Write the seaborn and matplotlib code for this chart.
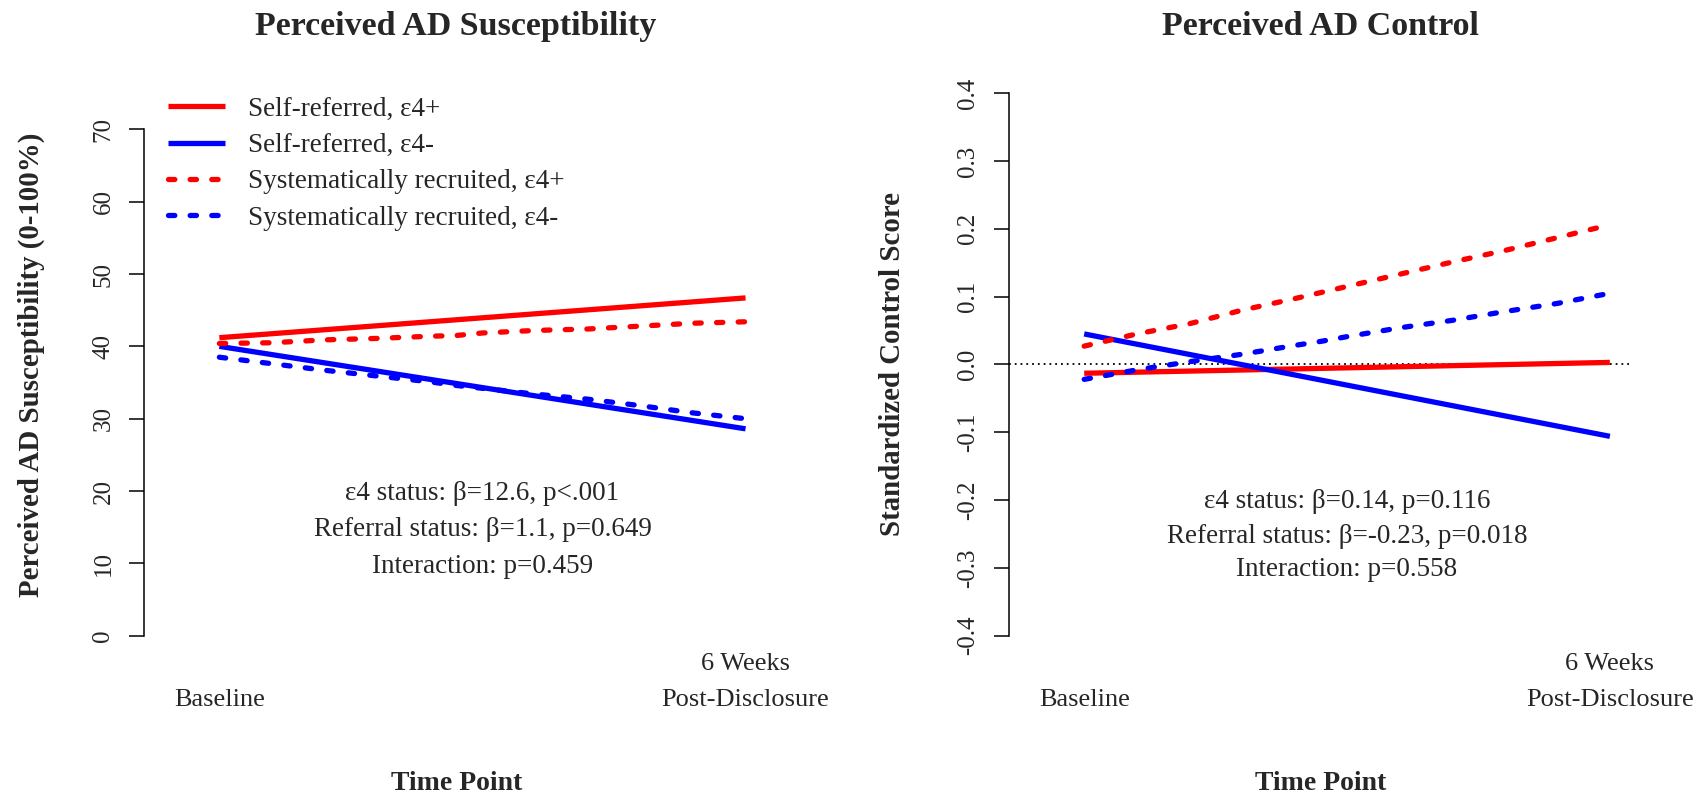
import numpy as np
import pandas as pd
import seaborn as sns
import matplotlib
matplotlib.use("Agg")
import matplotlib.pyplot as plt

# ---------------- data ----------------
time_labels = ["\nBaseline", "6 Weeks\nPost-Disclosure"]
series_names = ["Self-referred, \u03b54+", "Self-referred, \u03b54-",
                "Systematically recruited, \u03b54+", "Systematically recruited, \u03b54-"]

# solid (fitted) lines: baseline -> 6 weeks
susc_self_pos = [41.2, 46.7]
susc_self_neg = [40.0, 28.6]
ctrl_self_pos = [-0.013, 0.003]
ctrl_self_neg = [0.045, -0.106]
solid_x = [0.0, 1.0]

# dotted (smoothed) curves
curve_x = [0.0, 0.1, 0.2, 0.3, 0.4, 0.45, 0.5, 0.6, 0.7, 0.8, 0.9, 1.0]
susc_sys_pos = [40.4, 40.5, 40.9, 41.1, 41.4, 41.5, 41.85, 42.2, 42.4, 42.8, 43.2, 43.4]
susc_sys_neg = [38.5, 37.6, 36.7, 35.9, 35.1, 34.6, 34.2, 33.4, 32.7, 31.8, 30.8, 30.0]
ctrl_sys_pos = [0.027, 0.045, 0.060, 0.080, 0.097, 0.106, 0.115, 0.133, 0.151, 0.168, 0.187, 0.206]
ctrl_sys_neg = [-0.022, -0.008, 0.004, 0.015, 0.028, 0.034, 0.041, 0.054, 0.065, 0.078, 0.090, 0.105]

susc_ticks = [0, 10, 20, 30, 40, 50, 60, 70]
ctrl_ticks = [-0.4, -0.3, -0.2, -0.1, 0.0, 0.1, 0.2, 0.3, 0.4]
ctrl_tick_labels = ["-0.4", "-0.3", "-0.2", "-0.1", "0.0", "0.1", "0.2", "0.3", "0.4"]

susc_notes = ["\u03b54 status: \u03b2=12.6, p<.001",
              "Referral status: \u03b2=1.1, p=0.649",
              "Interaction: p=0.459"]
ctrl_notes = ["\u03b54 status: \u03b2=0.14, p=0.116",
              "Referral status: \u03b2=-0.23, p=0.018",
              "Interaction: p=0.558"]

titles = ["Perceived AD Susceptibility", "Perceived AD Control"]
ylabels = ["Perceived AD Susceptibility (0-100%)", "Standardized Control Score"]

# ---------------- style ----------------
sns.set_style("white")
plt.rcParams["font.family"] = ["Liberation Serif", "DejaVu Serif"]
plt.rcParams["axes.linewidth"] = 1.1

W, H = 1707, 795
fig = plt.figure(figsize=(W / 100, H / 100), dpi=100)
ax_b = 1 - 657.4 / H
ax_h = 585.9 / H
ax1 = fig.add_axes([143.6 / W, ax_b, 625.1 / W, ax_h])
ax2 = fig.add_axes([1008.5 / W, ax_b, 624.5 / W, ax_h])

RED, BLUE = "#ff0000", "#0000ff"
LW = 3.8
DOTS = (1.2, 2.9)


def draw(ax, sp, sn, cp, cn):
    specs = [(solid_x, sp, RED, None, series_names[0]),
             (solid_x, sn, BLUE, None, series_names[1]),
             (curve_x, cp, RED, DOTS, series_names[2]),
             (curve_x, cn, BLUE, DOTS, series_names[3])]
    handles = []
    for xs, ys, col, dash, lab in specs:
        df = pd.DataFrame({"t": xs, "v": ys})
        n0 = len(ax.lines)
        sns.lineplot(data=df, x="t", y="v", ax=ax, color=col, lw=LW,
                     estimator=None, sort=False, label=lab, legend=False)
        ln = ax.lines[n0]
        if dash is not None:
            ln.set_dashes(dash)
            ln.set_dash_capstyle("round")
        else:
            ln.set_solid_capstyle("butt")
        handles.append(ln)
    return handles


h1 = draw(ax1, susc_self_pos, susc_self_neg, susc_sys_pos, susc_sys_neg)
h2 = draw(ax2, ctrl_self_pos, ctrl_self_neg, ctrl_sys_pos, ctrl_sys_neg)
ax2.axhline(0, color="black", lw=1.3, ls=(0, (1, 2.2)), zorder=0.5)

ax1.set_ylim(-3, 78)
ax2.set_ylim(-0.432, 0.432)
for ax in (ax1, ax2):
    ax.set_xlim(-0.144, 1.044)
    for s in ("top", "right", "bottom"):
        ax.spines[s].set_visible(False)
    ax.spines["left"].set_color("black")
    ax.set_xlabel("")
    ax.set_ylabel("")
    ax.set_xticks([0, 1])
    ax.set_xticklabels(time_labels, fontsize=19, linespacing=1.8)
    ax.tick_params(axis="x", length=0, pad=-3)
    ax.tick_params(axis="y", length=11, width=1.1, color="black", pad=10,
                   labelsize=18, direction="out", left=True)

ax1.set_yticks(susc_ticks)
ax1.set_yticklabels([str(t) for t in susc_ticks], rotation=90, va="center")
ax1.spines["left"].set_bounds(0, 70)
ax2.set_yticks(ctrl_ticks)
ax2.set_yticklabels(ctrl_tick_labels, rotation=90, va="center")
ax2.spines["left"].set_bounds(-0.4, 0.4)

# annotations
for ax, notes, ys in ((ax1, susc_notes, (19.7, 14.7, 9.6)),
                      (ax2, ctrl_notes, (-0.202, -0.253, -0.303))):
    for txt, yv in zip(notes, ys):
        ax.text(0.5, yv, txt, ha="center", va="center", fontsize=19.5)

# titles, axis labels
for ax, t, yl, lx in ((ax1, titles[0], ylabels[0], 31), (ax2, titles[1], ylabels[1], 892)):
    pos = ax.get_position()
    xc = (pos.x0 + pos.x1) / 2
    fig.text(xc, 1 - 35 / H, t, ha="center", va="baseline",
             fontsize=24.5, fontweight="bold")
    fig.text(xc, 1 - 790 / H, "Time Point", ha="center", va="baseline",
             fontsize=20, fontweight="bold")
    fig.text(lx / W, (pos.y0 + pos.y1) / 2, yl, ha="center", va="center",
             rotation=90, fontsize=20.8, fontweight="bold")

# legend (left panel)
leg = ax1.legend(handles=h1, labels=series_names, loc="upper left",
                 bbox_to_anchor=(0.039, 0.957), frameon=False, fontsize=19.5,
                 handlelength=2.1, handletextpad=0.85, labelspacing=0.42,
                 borderpad=0, borderaxespad=0)

fig.savefig("out.png", dpi=100, facecolor="white")
